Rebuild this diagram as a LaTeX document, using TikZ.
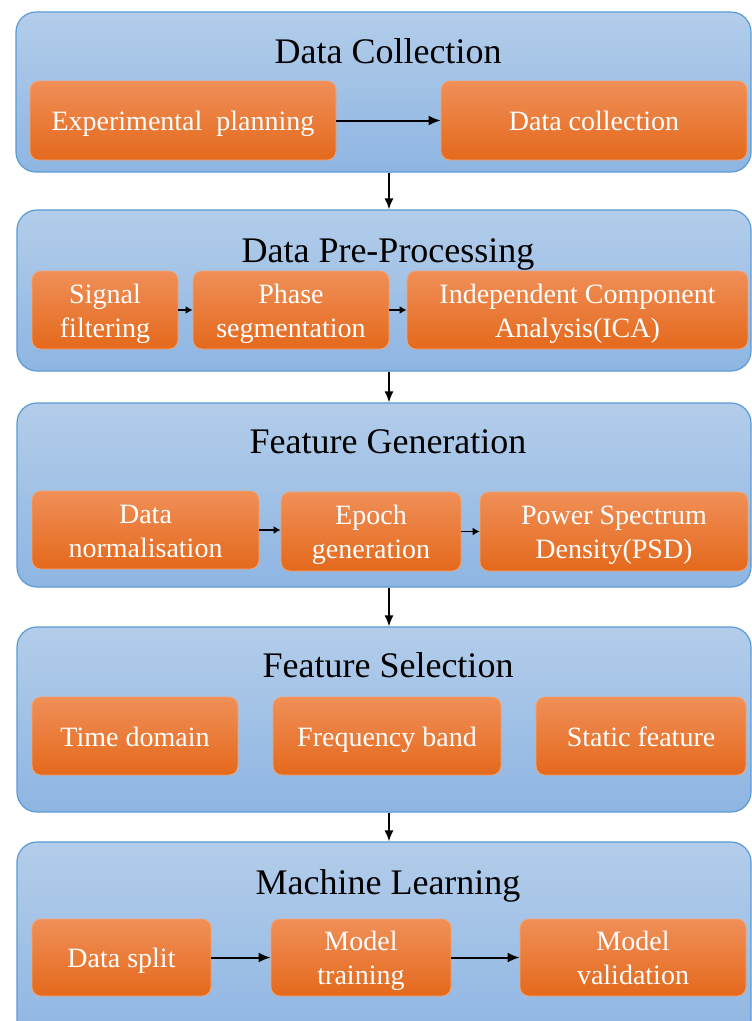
\documentclass[tikz,border=0pt]{standalone}
\usepackage{fontspec}
\setmainfont{Liberation Serif}
\usetikzlibrary{arrows.meta}

\definecolor{panelTop}{HTML}{B3CDEA}
\definecolor{panelBot}{HTML}{8EB5E2}
\definecolor{panelLine}{HTML}{5B9BD5}
\definecolor{boxTop}{HTML}{F08F58}
\definecolor{boxMid}{HTML}{F17B2C}
\definecolor{boxBot}{HTML}{E4691C}
\definecolor{boxLine}{HTML}{F3A46F}

\tikzset{
  panel/.style={draw=panelLine, line width=1.2pt, rounded corners=20pt,
    top color=panelTop, bottom color=panelBot, inner sep=0pt},
  stage/.style={font=\fontsize{36}{43}\selectfont, text=black, anchor=base, inner sep=0pt},
  stepbox/.style={draw=boxLine, line width=0.8pt, rounded corners=9pt,
    top color=boxTop, middle color=boxMid, bottom color=boxBot,
    text=white, align=center, inner sep=0pt,
    font=\fontsize{28}{34}\selectfont},
  oneline/.style={stepbox, text height=20pt, text depth=0pt},
  twoline/.style={stepbox, text height=54pt, text depth=0pt},
  flow/.style={line width=2pt, -{Latex[length=12pt,width=10pt]}},
  shortflow/.style={line width=1.6pt, -{Latex[length=7pt,width=8pt]}},
  down/.style={line width=1.6pt, -{Latex[length=11pt,width=9pt]}}
}

\begin{document}
\begin{tikzpicture}[x=1pt,y=-1pt]
\useasboundingbox (0,0) rectangle (752,1021);
\clip (0,0) rectangle (752,1021);
\fill[white] (0,0) rectangle (752,1021);

% stage panels
\node[panel, minimum width=735pt, minimum height=160pt] (p1) at (383.5,92) {};
\node[panel, minimum width=734pt, minimum height=161pt] (p2) at (384,290.5) {};
\node[panel, minimum width=734pt, minimum height=184pt] (p3) at (384,495) {};
\node[panel, minimum width=734pt, minimum height=185pt] (p4) at (384,719.5) {};
\node[panel, minimum width=734pt, minimum height=203pt] (p5) at (384,943.5) {};

% stage titles
\node[stage] (t1) at (388,63) {Data Collection};
\node[stage] (t2) at (388,262) {Data Pre-Processing};
\node[stage] (t3) at (388,453) {Feature Generation};
\node[stage] (t4) at (388,677) {Feature Selection};
\node[stage] (t5) at (388,894) {Machine Learning};

% data collection
\node[oneline, minimum width=306pt, minimum height=79pt] (b11) at (183,120.5) {Experimental\ \ planning};
\node[oneline, minimum width=306pt, minimum height=79pt] (b12) at (594,120.5) {Data collection};

% pre-processing
\node[twoline, minimum width=146pt, minimum height=78pt] (b21) at (105,310) {Signal\\filtering};
\node[twoline, minimum width=196pt, minimum height=78pt] (b22) at (291,310) {Phase\\segmentation};
\node[twoline, minimum width=341pt, minimum height=78pt] (b23) at (577.5,310) {Independent Component\\Analysis(ICA)};

% feature generation
\node[twoline, minimum width=227pt, minimum height=78pt] (b31) at (145.5,530) {Data\\normalisation};
\node[twoline, minimum width=180pt, minimum height=79pt] (b32) at (371,531.5) {Epoch\\generation};
\node[twoline, minimum width=268pt, minimum height=79pt] (b33) at (614,531.5) {Power Spectrum\\Density(PSD)};

% feature selection
\node[oneline, minimum width=206pt, minimum height=78pt] (b41) at (135,736) {Time domain};
\node[oneline, minimum width=228pt, minimum height=78pt] (b42) at (387,736) {Frequency band};
\node[oneline, minimum width=210pt, minimum height=78pt] (b43) at (641,736) {Static feature};

% machine learning
\node[oneline, minimum width=179pt, minimum height=77pt] (b51) at (121.5,957.5) {Data split};
\node[twoline, minimum width=180pt, minimum height=77pt] (b52) at (361,957.5) {Model\\training};
\node[twoline, minimum width=226pt, minimum height=77pt] (b53) at (633,957.5) {Model\\validation};

% arrows inside the stages
\draw[flow] (b11.east) -- (b12.west);
\draw[shortflow] (b21.east) -- (b22.west);
\draw[shortflow] (b22.east) -- (b23.west);
\draw[shortflow] (b31.east) -- (b32.west |- b31.east);
\draw[shortflow] (b32.east) -- (b33.west);
\draw[flow] (b51.east) -- (b52.west);
\draw[flow] (b52.east) -- (b53.west);

% arrows between the stages
\coordinate (axis) at (389,0);
\draw[down] (p1.south -| axis) -- (p2.north -| axis);
\draw[down] (p2.south -| axis) -- (p3.north -| axis);
\draw[down] (p3.south -| axis) -- (p4.north -| axis);
\draw[down] (p4.south -| axis) -- (p5.north -| axis);
\end{tikzpicture}
\end{document}
